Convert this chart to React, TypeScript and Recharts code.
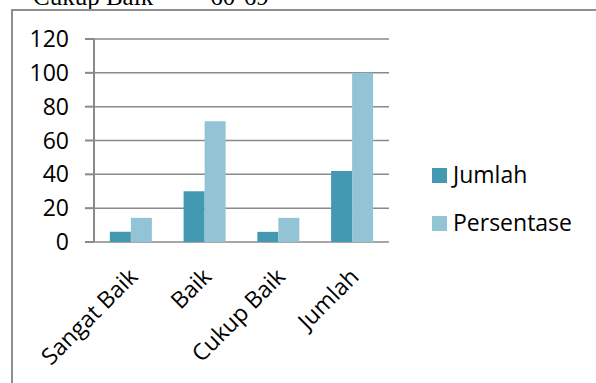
import React from "react";
import { BarChart, Bar, XAxis, YAxis, CartesianGrid } from "recharts";

const categories = ["Sangat Baik", "Baik", "Cukup Baik", "Jumlah"];
const jumlah = [6, 30, 6, 42];
const persentase = [14.29, 71.43, 14.29, 100];
const yTicks = [0, 20, 40, 60, 80, 100, 120];
const boundaryTicks = [0, 1, 2, 3, 4];
const seriesNames = ["Jumlah", "Persentase"];
const colors = ["#4399B1", "#93C4D5"];

const data = categories.map((c, i) => ({
  name: c,
  Jumlah: jumlah[i],
  Persentase: persentase[i],
}));

const FONT = "'Open Sans', sans-serif";
const AXIS = "#8a8a8a";

const CatTick = (props: any) => {
  const { x, y, payload } = props;
  const ax = x - 6;
  const ay = y + 14;
  return (
    <text
      x={ax}
      y={ay}
      transform={`rotate(-45, ${ax}, ${ay})`}
      textAnchor="end"
      dominantBaseline="hanging"
      fontFamily={FONT}
      fontSize={23}
      fill="#000"
    >
      {payload.value}
    </text>
  );
};

const LegendBox = () => (
  <div style={{ position: "absolute", left: 432, top: 160, fontFamily: FONT, fontSize: 23, color: "#000" }}>
    {seriesNames.map((n, i) => (
      <div
        key={n}
        style={{ position: "absolute", left: 0, top: i * 48, height: 30, whiteSpace: "nowrap" }}
      >
        <span
          style={{
            position: "absolute",
            left: 0,
            top: 8,
            width: 15,
            height: 15,
            background: colors[i],
          }}
        />
        <span style={{ position: "absolute", left: 21, top: -2, lineHeight: "32px" }}>{n}</span>
      </div>
    ))}
  </div>
);

export default function App() {
  return (
    <div
      style={{
        position: "absolute",
        left: 0,
        top: 0,
        width: 596,
        height: 383,
        overflow: "hidden",
        background: "#fff",
      }}
    >
      <svg
        width={596}
        height={20}
        style={{ position: "absolute", left: 0, top: 0 }}
      >
        <text x={33} y={5} fontFamily="'Liberation Serif', 'Times New Roman', serif" fontSize={25} fill="#000">
          Cukup Baik
        </text>
        <text x={190} y={5} fontFamily="'Liberation Serif', 'Times New Roman', serif" fontSize={25} fill="#000">
          = 60-69
        </text>
      </svg>
      <div
        style={{
          position: "absolute",
          left: 11,
          top: 9,
          width: 800,
          height: 600,
          borderLeft: "2px solid #8e8e8e",
          borderTop: "2px solid #8e8e8e",
        }}
      />
      <div style={{ position: "absolute", left: 0, top: 0 }}>
        <BarChart
          width={596}
          height={383}
          data={data}
          margin={{ top: 39, right: 207, bottom: 0, left: 0 }}
          barCategoryGap="21.5%"
          barGap={0}
        >
          <CartesianGrid
            horizontal={true}
            vertical={false}
            stroke={AXIS}
            strokeWidth={1.5}
          />
          <XAxis
            xAxisId={0}
            type="number"
            dataKey={() => 0}
            domain={[0, 4]}
            ticks={boundaryTicks}
            tick={false}
            tickSize={6}
            height={0}
            axisLine={{ stroke: AXIS, strokeWidth: 2 }}
            tickLine={{ stroke: AXIS, strokeWidth: 2 }}
          />
          <XAxis
            xAxisId="cat"
            dataKey="name"
            type="category"
            height={141}
            axisLine={false}
            tickLine={false}
            interval={0}
            tick={<CatTick />}
          />
          <YAxis
            width={94}
            domain={[0, 120]}
            ticks={yTicks}
            interval={0}
            tickSize={9}
            tickMargin={16}
            axisLine={{ stroke: AXIS, strokeWidth: 2 }}
            tickLine={{ stroke: AXIS, strokeWidth: 2 }}
            tick={{ fontFamily: FONT, fontSize: 23, fill: "#000" }}
          />
          {seriesNames.map((n, i) => (
            <Bar
              key={n}
              xAxisId="cat"
              dataKey={n}
              fill={colors[i]}
              isAnimationActive={false}
            />
          ))}
        </BarChart>
      </div>
      <LegendBox />
    </div>
  );
}
